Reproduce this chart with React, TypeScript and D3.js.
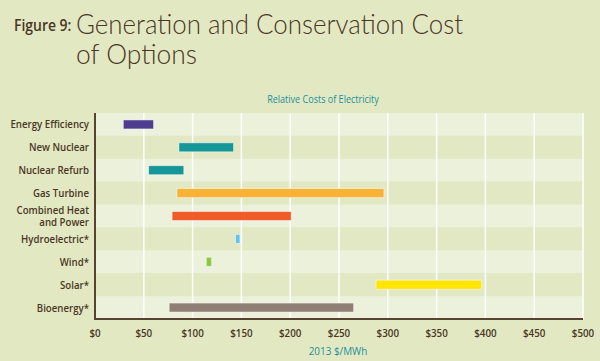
import React, { useRef, useEffect } from 'react';
import * as d3 from 'd3';

const categories = ['Energy Efficiency', 'New Nuclear', 'Nuclear Refurb', 'Gas Turbine', 'Combined Heat\nand Power', 'Hydroelectric*', 'Wind*', 'Solar*', 'Bioenergy*'];
const lowCost = [29, 86, 55, 84, 79, 144, 114, 288, 76];
const highCost = [60, 142, 91, 296, 201, 148.5, 119.5, 396, 265];
const barColors = ['#4e3d8f', '#15979a', '#15979a', '#f9b233', '#ef5b2a', '#62c3ec', '#8dc63f', '#ffe500', '#8f7f74'];
const xTicks = [0, 50, 100, 150, 200, 250, 300, 350, 400, 450, 500];

const W = 600, H = 361;
const left = 95, right = 583, top = 113, bottom = 319;
const labelFont = '"Open Sans", sans-serif';

// squeeze text horizontally to mimic the condensed face of the original
function condense(sel: d3.Selection<SVGTextElement, any, any, any>, k: number) {
  sel.each(function () {
    const len = this.getComputedTextLength();
    d3.select(this).attr('textLength', len * k).attr('lengthAdjust', 'spacingAndGlyphs');
  });
}

export const App: React.FC = () => {
  const svgRef = useRef<SVGSVGElement>(null);

  useEffect(() => {
    const svg = d3.select(svgRef.current as SVGSVGElement);
    svg.selectAll('*').remove();

    const x = d3.scaleLinear().domain([0, 500]).range([left, right]);
    const y = d3.scaleBand<number>().domain(d3.range(categories.length)).range([top, bottom]).padding(0);

    svg.append('rect').attr('width', W).attr('height', H).attr('fill', '#e2e9c2');

    // title
    const fig = svg.append('text').attr('x', 14).attr('y', 31)
      .attr('font-family', labelFont).attr('font-size', 15.5).attr('font-weight', 600)
      .attr('fill', '#4a3626').text('Figure 9:');
    condense(fig as any, 0.9);
    svg.append('text').attr('x', 76).attr('y', 34)
      .attr('font-family', 'Lato, sans-serif').attr('font-size', 27).attr('font-weight', 300)
      .attr('textLength', 387).attr('lengthAdjust', 'spacingAndGlyphs')
      .attr('fill', '#4a3626').text('Generation and Conservation Cost');
    svg.append('text').attr('x', 76).attr('y', 64)
      .attr('font-family', 'Lato, sans-serif').attr('font-size', 27).attr('font-weight', 300)
      .attr('textLength', 121).attr('lengthAdjust', 'spacingAndGlyphs')
      .attr('fill', '#4a3626').text('of Options');

    const sub = svg.append('text').attr('x', 323).attr('y', 103).attr('text-anchor', 'middle')
      .attr('font-family', labelFont).attr('font-size', 10.5)
      .attr('fill', '#1c8f9c').text('Relative Costs of Electricity');
    condense(sub as any, 0.86);

    // row bands
    svg.append('g').selectAll('rect').data(categories).join('rect')
      .attr('x', left).attr('y', (_, i) => y(i) as number)
      .attr('width', right - left).attr('height', y.bandwidth())
      .attr('fill', (_, i) => (i % 2 === 0 ? '#ebf1da' : '#e1e8c3'));

    // gridlines
    svg.append('g').selectAll('line').data(xTicks.slice(1)).join('line')
      .attr('x1', d => x(d)).attr('x2', d => x(d))
      .attr('y1', top).attr('y2', bottom)
      .attr('stroke', '#ffffff').attr('stroke-width', 1.5);

    // bars
    const bh = 9;
    svg.append('g').selectAll('rect').data(categories).join('rect')
      .attr('x', (_, i) => x(lowCost[i]))
      .attr('y', (_, i) => (y(i) as number) + y.bandwidth() / 2 - bh / 2)
      .attr('width', (_, i) => x(highCost[i]) - x(lowCost[i]))
      .attr('height', bh)
      .attr('fill', (_, i) => barColors[i])
      .attr('stroke', 'rgba(255,255,255,0.6)').attr('stroke-width', 0.8);

    // axes lines
    svg.append('line').attr('x1', left).attr('x2', left).attr('y1', top).attr('y2', bottom + 1)
      .attr('stroke', '#5a4230').attr('stroke-width', 2);
    svg.append('line').attr('x1', left - 1).attr('x2', right).attr('y1', bottom).attr('y2', bottom)
      .attr('stroke', '#5a4230').attr('stroke-width', 2);

    // category labels
    const labels = svg.append('g')
      .attr('font-family', labelFont).attr('font-size', 11.5).attr('font-weight', 600)
      .attr('fill', '#4a3626').attr('text-anchor', 'end');
    categories.forEach((c, i) => {
      const lines = c.split('\n');
      const cy = (y(i) as number) + y.bandwidth() / 2;
      lines.forEach((ln, j) => {
        labels.append('text').attr('x', 89)
          .attr('y', cy + 4 + (j - (lines.length - 1) / 2) * 12)
          .text(ln);
      });
    });
    condense(labels.selectAll<SVGTextElement, any>('text'), 0.84);

    // x tick labels
    const ticks = svg.append('g').selectAll<SVGTextElement, number>('text').data(xTicks).join('text')
      .attr('x', d => x(d)).attr('y', 337).attr('text-anchor', 'middle')
      .attr('font-family', labelFont).attr('font-size', 11.5).attr('font-weight', 600)
      .attr('fill', '#4a3626').text(d => `$${d}`);
    condense(ticks, 0.85);

    const xl = svg.append('text').attr('x', 338).attr('y', 355).attr('text-anchor', 'middle')
      .attr('font-family', labelFont).attr('font-size', 11)
      .attr('fill', '#1c8f9c').text('2013 $/MWh');
    condense(xl as any, 0.9);
  }, []);

  return <svg ref={svgRef} width={W} height={H} style={{ display: 'block', position: 'absolute', left: 0, top: 0 }} />;
};

export default App;
